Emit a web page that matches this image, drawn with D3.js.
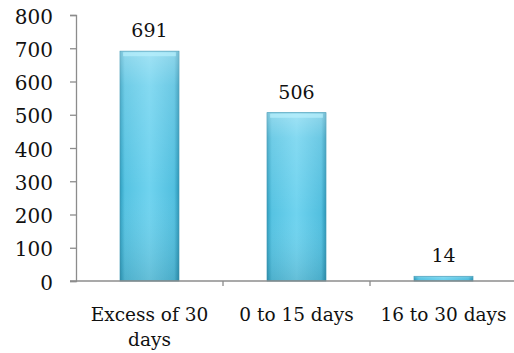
<!DOCTYPE html>
<html><head><meta charset="utf-8">
<script src="https://cdn.jsdelivr.net/npm/d3@7"></script>
<style>body{margin:0;background:#fff}svg{display:block}</style>
</head><body>
<script>
const categories = ["Excess of 30 days", "0 to 15 days", "16 to 30 days"];
const categoryLines = [["Excess of 30", "days"], ["0 to 15 days"], ["16 to 30 days"]];
const values = [691, 506, 14];
const yTicks = [0, 100, 200, 300, 400, 500, 600, 700, 800];

const W = 514, H = 353;
const m = {left: 76, right: -3, top: 15, bottom: 72};
const svg = d3.select("body").append("svg").attr("width", W).attr("height", H);
const font = "'DejaVu Serif', serif";

const defs = svg.append("defs");
const g1 = defs.append("linearGradient").attr("id", "hg").attr("x1", 0).attr("x2", 1).attr("y1", 0).attr("y2", 0);
[[0, "#2f9fc0"], [0.08, "#56c3e2"], [0.5, "#6fd3ef"], [0.92, "#52bfdf"], [1, "#2c97b8"]].forEach(([o, c]) => g1.append("stop").attr("offset", o).attr("stop-color", c));
const g2 = defs.append("linearGradient").attr("id", "vg").attr("x1", 0).attr("x2", 0).attr("y1", 0).attr("y2", 1);
[[0, "#ffffff", 0.35], [0.15, "#ffffff", 0.15], [0.6, "#ffffff", 0], [1, "#000000", 0.1]].forEach(([o, c, a]) => g2.append("stop").attr("offset", o).attr("stop-color", c).attr("stop-opacity", a));

const x = d3.scaleBand().domain(categories).range([m.left, W - m.right]).paddingInner(0.6).paddingOuter(0.3);
const y = d3.scaleLinear().domain([0, 800]).range([H - m.bottom, m.top]);

// y axis
const ya = svg.append("g").attr("transform", `translate(${m.left},0)`)
  .call(d3.axisLeft(y).tickValues(yTicks).tickSize(6).tickPadding(17));
ya.selectAll("path,line").attr("stroke", "#8c8c8c").attr("stroke-width", 1.3);
ya.selectAll("text").attr("font-family", font).attr("font-size", 20).attr("fill", "#111").attr("dy", "0.4em");

// bars
const bars = svg.append("g");
values.forEach((v, i) => {
  const c = categories[i];
  const bx = x(c), bw = x.bandwidth(), by = y(v), bh = y(0) - y(v);
  bars.append("rect").attr("x", bx).attr("y", by).attr("width", bw).attr("height", bh)
    .attr("fill", "url(#hg)").attr("stroke", "#2a8fb0").attr("stroke-width", 0.8);
  bars.append("rect").attr("x", bx).attr("y", by).attr("width", bw).attr("height", bh)
    .attr("fill", "url(#vg)");
  if (bh > 10) {
    bars.append("rect").attr("x", bx + 3).attr("y", by + 1).attr("width", bw - 6).attr("height", 4)
      .attr("fill", "#b8effc").attr("opacity", 0.7);
  }
  svg.append("text").attr("x", bx + bw / 2).attr("y", by - 14).attr("text-anchor", "middle")
    .attr("font-family", font).attr("font-size", 19).attr("fill", "#111").text(v);
});

// x axis
const x0 = y(0);
svg.append("line").attr("x1", m.left - 6).attr("x2", W).attr("y1", x0).attr("y2", x0)
  .attr("stroke", "#8c8c8c").attr("stroke-width", 1.3);
categories.slice(1).forEach(c => {
  const tx = x(c) - x.step() * x.paddingInner() / 2;
  svg.append("line").attr("x1", tx).attr("x2", tx).attr("y1", x0).attr("y2", x0 + 5)
    .attr("stroke", "#8c8c8c").attr("stroke-width", 1.3);
});
categoryLines.forEach((lines, i) => {
  const cx = x(categories[i]) + x.bandwidth() / 2;
  lines.forEach((t, j) => {
    svg.append("text").attr("x", cx).attr("y", 321 + j * 25).attr("text-anchor", "middle")
      .attr("font-family", font).attr("font-size", 18.5).attr("fill", "#111").text(t);
  });
});
</script>
</body></html>
